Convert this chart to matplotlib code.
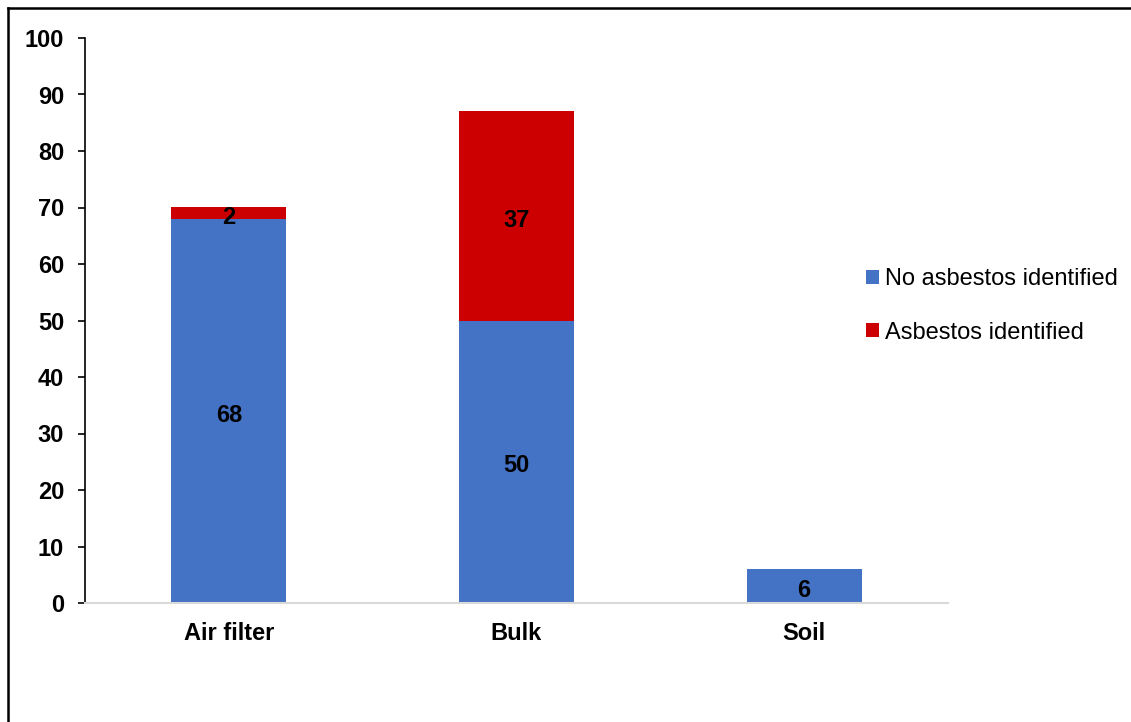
import matplotlib
matplotlib.use("Agg")
import matplotlib.pyplot as plt
from matplotlib.lines import Line2D
from matplotlib.patches import Patch

plt.rcParams['font.family'] = ['Liberation Sans', 'DejaVu Sans']

categories = ["Air filter", "Bulk", "Soil"]
no_asbestos = [68, 50, 6]
asbestos = [2, 37, 0]
series_names = ["No asbestos identified", "Asbestos identified"]
colors = ["#4472C4", "#CC0000"]

FS = 17

fig = plt.figure(figsize=(11.31, 7.22), dpi=100)
ax = fig.add_axes([85 / 1131, 1 - 603 / 722, (948 - 85) / 1131, (603 - 38) / 722])

x = list(range(len(categories)))
width = 0.4
b1 = ax.bar(x, no_asbestos, width, color=colors[0], label=series_names[0])
b2 = ax.bar(x, asbestos, width, bottom=no_asbestos, color=colors[1], label=series_names[1])

# value labels centred in each segment
for bars, vals, bottoms in ((b1, no_asbestos, [0] * 3), (b2, asbestos, no_asbestos)):
    for rect, v, b in zip(bars, vals, bottoms):
        if v > 0:
            ax.annotate(str(v), (rect.get_x() + rect.get_width() / 2, b + v / 2),
                        xytext=(0, -3), textcoords="offset points",
                        ha="center", va="center", fontsize=FS, fontweight="bold", color="black")

ax.set_xlim(-0.5, 2.5)
ax.set_ylim(0, 100)
ax.set_yticks(range(0, 101, 10))
ax.set_xticks(x)
ax.set_xticklabels(categories, fontsize=FS, fontweight="bold")
for lbl in ax.get_yticklabels():
    lbl.set_fontsize(FS)
    lbl.set_fontweight("bold")
ax.tick_params(axis="x", length=0, pad=14)
ax.tick_params(axis="y", length=5, width=1.2, color="black", pad=10, direction="out")

for side in ("top", "right"):
    ax.spines[side].set_visible(False)
ax.spines["left"].set_color("black")
ax.spines["left"].set_linewidth(1.2)
ax.spines["bottom"].set_color("#D9D9D9")
ax.spines["bottom"].set_linewidth(1.5)

handles = [Patch(facecolor=c, edgecolor="none") for c in colors]
fig.legend(handles, series_names, loc="center left",
           bbox_to_anchor=(857 / 1131, 1 - 306 / 722), frameon=False,
           fontsize=FS, handlelength=0.55, handleheight=0.55, handletextpad=0.25,
           labelspacing=1.33, borderaxespad=0)

# outer frame lines along the top and left edges
fig.add_artist(Line2D([7.5 / 1131, 1], [1 - 7.5 / 722, 1 - 7.5 / 722], color="black", lw=1.8,
                      transform=fig.transFigure))
fig.add_artist(Line2D([7.5 / 1131, 7.5 / 1131], [0, 1 - 7.5 / 722], color="black", lw=1.8,
                      transform=fig.transFigure))

fig.savefig("out.png", dpi=100)
